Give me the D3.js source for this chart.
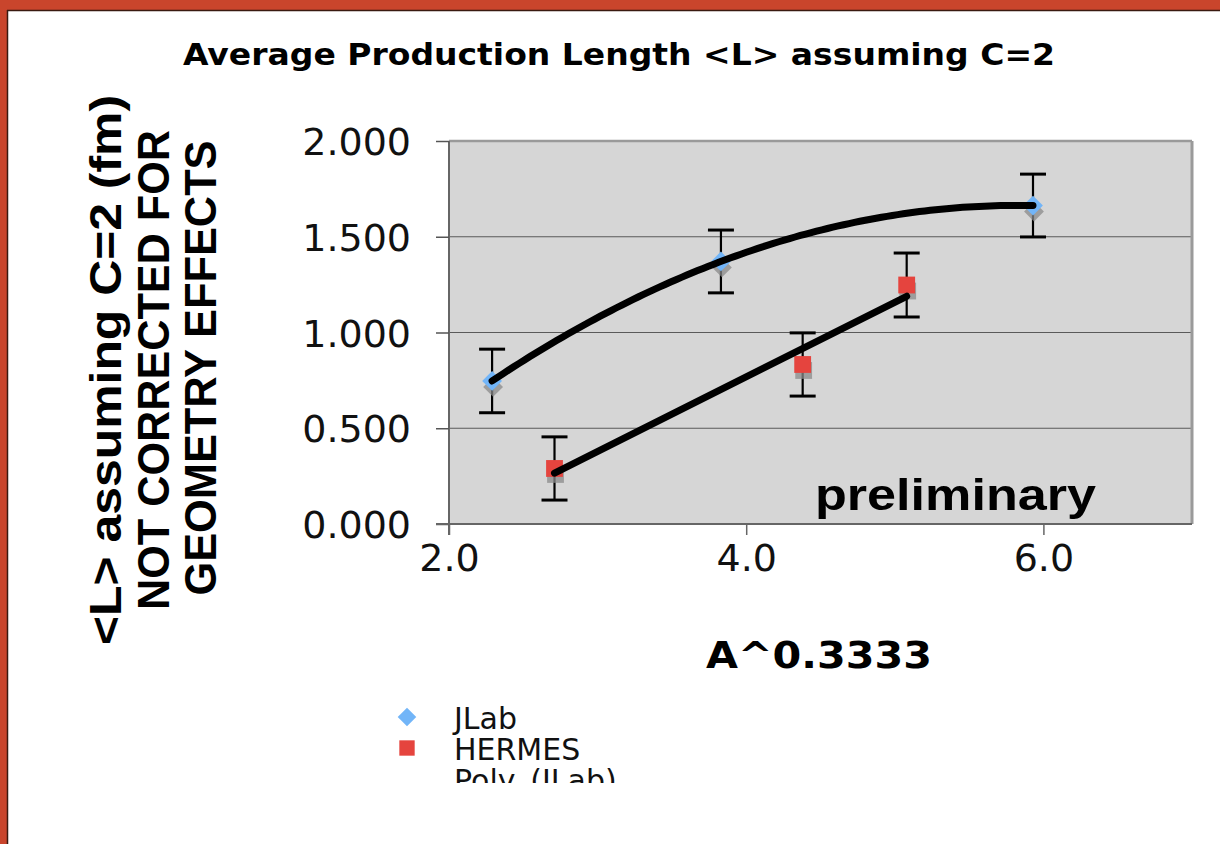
<!DOCTYPE html>
<html>
<head>
<meta charset="utf-8">
<script src="https://cdn.jsdelivr.net/npm/d3@7"></script>
<style>
  html, body { margin: 0; padding: 0; background: #fff; }
  svg { display: block; }
</style>
</head>
<body>
<svg id="chart" width="1220" height="844"></svg>
<script>
// Measured average production length per nucleus size
const jlabX = [2.29, 3.83, 5.93];
const jlabY = [0.747, 1.371, 1.663];
const jlabErr = [0.166, 0.164, 0.164];

const hermesX = [2.71, 4.38, 5.08];
const hermesY = [0.29, 0.833, 1.248];
const hermesErr = [0.165, 0.165, 0.167];

const yTicks = [0, 0.5, 1.0, 1.5, 2.0];
const xTicks = [2, 4, 6];
const legendNames = ["JLab", "HERMES", "Poly.  (JLab)"];

const svg = d3.select("#chart");

// slide frame
svg.append("rect").attr("x", 0).attr("y", 0).attr("width", 1220).attr("height", 10).attr("fill", "#c9452c");
svg.append("rect").attr("x", 0).attr("y", 0).attr("width", 7).attr("height", 844).attr("fill", "#c9452c");
svg.append("line").attr("x1", 7).attr("x2", 1220).attr("y1", 10.5).attr("y2", 10.5).attr("stroke", "#3a1a10").attr("stroke-width", 1.5);
svg.append("line").attr("x1", 7.5).attr("x2", 7.5).attr("y1", 10).attr("y2", 844).attr("stroke", "#3a1a10").attr("stroke-width", 1.5);

const L = 449, R = 1192, T = 141, B = 524;
const x = d3.scaleLinear().domain([2, 7]).range([L, R]);
const y = d3.scaleLinear().domain([0, 2]).range([B, T]);

// plot area
svg.append("rect").attr("x", L).attr("y", T).attr("width", R - L).attr("height", B - T).attr("fill", "#d6d6d6");

// gridlines
svg.append("g").selectAll("line").data(yTicks.filter(d => d > 0 && d < 2)).join("line")
  .attr("x1", L).attr("x2", R).attr("y1", d => y(d)).attr("y2", d => y(d))
  .attr("stroke", "#5a5a5a").attr("stroke-width", 1.2);

// plot frame top/right
svg.append("line").attr("x1", L).attr("x2", R).attr("y1", T).attr("y2", T).attr("stroke", "#9a9a9a").attr("stroke-width", 2.5);
svg.append("line").attr("x1", R).attr("x2", R).attr("y1", T).attr("y2", B).attr("stroke", "#9a9a9a").attr("stroke-width", 3);

// axes
const yAxis = d3.axisLeft(y).tickValues(yTicks).tickFormat(d3.format(".3f")).tickSize(13).tickPadding(25);
const gy = svg.append("g").attr("transform", `translate(${L},0)`).call(yAxis);
gy.select(".domain").attr("stroke", "#666").attr("stroke-width", 2).attr("d", `M0,${T}V${B + 11}`);
gy.selectAll(".tick line").attr("stroke", "#555").attr("stroke-width", 1.5);
gy.selectAll(".tick text").attr("font-family", "DejaVu Sans, Verdana, sans-serif").attr("font-size", 38).attr("fill", "#111").attr("dy", "0.36em");

const xAxis = d3.axisBottom(x).tickValues(xTicks).tickFormat(d3.format(".1f")).tickSize(11).tickPadding(36);
const gx = svg.append("g").attr("transform", `translate(0,${B})`).call(xAxis);
gx.select(".domain").attr("stroke", "#666").attr("stroke-width", 2).attr("d", `M${L - 13},0H${R}`);
gx.selectAll(".tick line").attr("stroke", "#666").attr("stroke-width", 1.5);
gx.selectAll(".tick text").attr("font-family", "DejaVu Sans, Verdana, sans-serif").attr("font-size", 38).attr("fill", "#111").attr("dy", "0");

// trendline fits
function polyFit2(xs, ys) {
  // least-squares quadratic via normal equations
  const n = xs.length;
  let s = [0, 0, 0, 0, 0], t = [0, 0, 0];
  for (let i = 0; i < n; i++) {
    for (let k = 0; k < 5; k++) s[k] += Math.pow(xs[i], k);
    for (let k = 0; k < 3; k++) t[k] += ys[i] * Math.pow(xs[i], k);
  }
  const M = [[s[0], s[1], s[2], t[0]], [s[1], s[2], s[3], t[1]], [s[2], s[3], s[4], t[2]]];
  for (let c = 0; c < 3; c++) {
    let p = c;
    for (let r = c + 1; r < 3; r++) if (Math.abs(M[r][c]) > Math.abs(M[p][c])) p = r;
    [M[c], M[p]] = [M[p], M[c]];
    for (let r = 0; r < 3; r++) {
      if (r === c) continue;
      const f = M[r][c] / M[c][c];
      for (let k = c; k < 4; k++) M[r][k] -= f * M[c][k];
    }
  }
  const a = M.map((row, i) => row[3] / row[i]);
  return v => a[0] + a[1] * v + a[2] * v * v;
}
function linFit(xs, ys) {
  const mx = d3.mean(xs), my = d3.mean(ys);
  let sxy = 0, sxx = 0;
  xs.forEach((v, i) => { sxy += (v - mx) * (ys[i] - my); sxx += (v - mx) ** 2; });
  const b = sxy / sxx;
  return v => my + b * (v - mx);
}
const poly = polyFit2(jlabX, jlabY);
const lin = linFit(hermesX, hermesY);
const polyPts = d3.range(0, 101).map(i => {
  const v = jlabX[0] + (jlabX[2] - jlabX[0]) * i / 100;
  return [v, poly(v)];
});
const linPts = [hermesX[0], hermesX[hermesX.length - 1]].map(v => [v, lin(v)]);

// error bars
function errorBars(xs, ys, es) {
  const g = svg.append("g").attr("stroke", "#000");
  xs.forEach((v, i) => {
    g.append("line").attr("x1", x(v)).attr("x2", x(v)).attr("y1", y(ys[i] + es[i])).attr("y2", y(ys[i] - es[i])).attr("stroke-width", 2.2);
    [ys[i] + es[i], ys[i] - es[i]].forEach(e => {
      g.append("line").attr("x1", x(v) - 13).attr("x2", x(v) + 13).attr("y1", y(e)).attr("y2", y(e)).attr("stroke-width", 3);
    });
  });
}
errorBars(jlabX, jlabY, jlabErr);
errorBars(hermesX, hermesY, hermesErr);

const diamond = d3.symbol().type(d3.symbolDiamond2).size(250);
const square = d3.symbol().type(d3.symbolSquare2).size(360);

function markers(xs, ys, path, color) {
  const g = svg.append("g");
  xs.forEach((v, i) => {
    g.append("path").attr("d", path).attr("transform", `translate(${x(v) + 1},${y(ys[i]) + 6})`)
      .attr("fill", "#8a8a8a").attr("opacity", 0.75);
  });
  xs.forEach((v, i) => {
    g.append("path").attr("d", path).attr("transform", `translate(${x(v)},${y(ys[i])})`)
      .attr("fill", color);
  });
}
markers(jlabX, jlabY, diamond(), "#72b5f8");
markers(hermesX, hermesY, square(), "#e5443e");

const line = d3.line().x(d => x(d[0])).y(d => y(d[1])).curve(d3.curveLinear);
svg.append("path").attr("d", line(polyPts)).attr("fill", "none").attr("stroke", "#000").attr("stroke-width", 7).attr("stroke-linecap", "round");
svg.append("path").attr("d", line(linPts)).attr("fill", "none").attr("stroke", "#000").attr("stroke-width", 7).attr("stroke-linecap", "round");

// watermark
svg.append("text").attr("x", 815).attr("y", 510).text("preliminary")
  .attr("font-family", "Liberation Sans, Arial, sans-serif").attr("font-weight", "bold")
  .attr("font-size", 45).attr("textLength", 281).attr("lengthAdjust", "spacingAndGlyphs").attr("fill", "#000");

// titles
svg.append("text").attr("x", 619).attr("y", 65).attr("text-anchor", "middle")
  .text("Average Production Length <L> assuming C=2")
  .attr("font-family", "DejaVu Sans, Verdana, sans-serif").attr("font-weight", "bold")
  .attr("font-size", 30).attr("textLength", 872).attr("lengthAdjust", "spacingAndGlyphs");

svg.append("text").attr("x", 819).attr("y", 668).attr("text-anchor", "middle")
  .text("A^0.3333")
  .attr("font-family", "DejaVu Sans, Verdana, sans-serif").attr("font-weight", "bold")
  .attr("font-size", 38).attr("textLength", 226).attr("lengthAdjust", "spacingAndGlyphs");

const yTitle = [
  { t: "<L> assuming C=2 (fm)", bx: 121, cy: 370, len: 550 },
  { t: "NOT CORRECTED FOR", bx: 169, cy: 370, len: 480 },
  { t: "GEOMETRY EFFECTS", bx: 216, cy: 368, len: 455 }
];
yTitle.forEach(l => {
  svg.append("text").attr("transform", `translate(${l.bx},${l.cy}) rotate(-90)`)
    .attr("text-anchor", "middle").text(l.t)
    .attr("font-family", "Liberation Sans, Arial, sans-serif").attr("font-weight", "bold")
    .attr("font-size", 45).attr("textLength", l.len).attr("lengthAdjust", "spacingAndGlyphs");
});

// legend (clipped box)
svg.append("clipPath").attr("id", "legclip").append("rect").attr("x", 380).attr("y", 695).attr("width", 400).attr("height", 88);
const leg = svg.append("g").attr("clip-path", "url(#legclip)");
const legY = [717, 748, 779];
leg.append("path").attr("d", d3.symbol().type(d3.symbolDiamond2).size(220)()).attr("transform", `translate(407,${legY[0]})`).attr("fill", "#72b5f8");
leg.append("path").attr("d", d3.symbol().type(d3.symbolSquare2).size(300)()).attr("transform", `translate(407,${legY[1]})`).attr("fill", "#e5443e");
legendNames.forEach((n, i) => {
  leg.append("text").attr("x", 454).attr("y", legY[i] + 12).text(n)
    .attr("font-family", "DejaVu Sans, Verdana, sans-serif").attr("font-size", 30).attr("fill", "#111");
});
</script>
</body>
</html>
